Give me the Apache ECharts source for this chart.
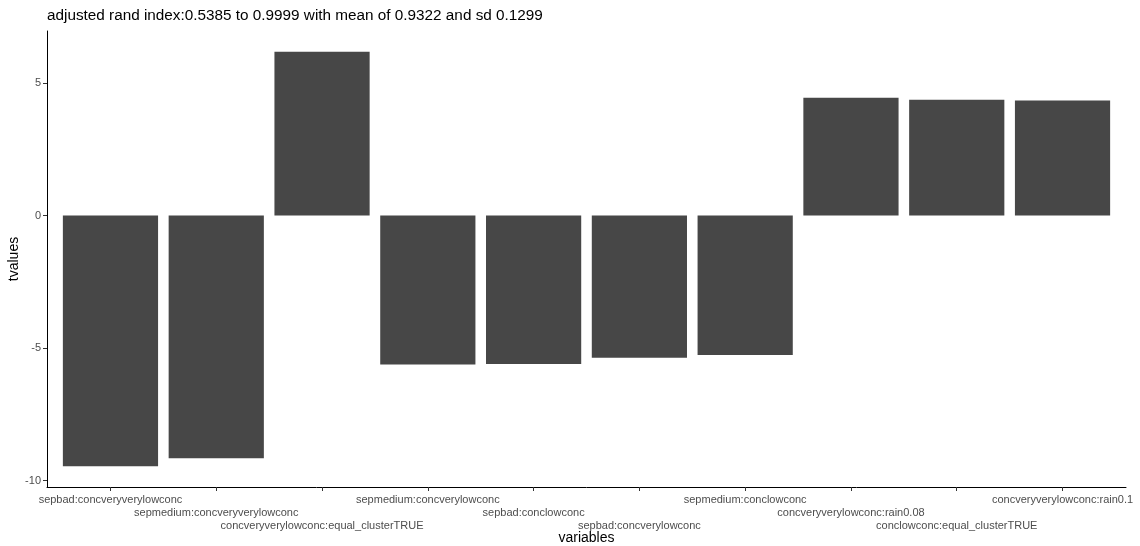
<!DOCTYPE html>
<html>
<head>
<meta charset="utf-8">
<script src="https://cdn.jsdelivr.net/npm/echarts@6/dist/echarts.min.js"></script>
<style>
  html, body { margin: 0; padding: 0; background: #fff; }
  #chart { width: 1140px; height: 546px; }
</style>
</head>
<body>
<div id="chart"></div>
<script>
// Interaction terms and their t values
const variables = [
  'sepbad:concveryverylowconc',
  'sepmedium:concveryverylowconc',
  'concveryverylowconc:equal_clusterTRUE',
  'sepmedium:concverylowconc',
  'sepbad:conclowconc',
  'sepbad:concverylowconc',
  'sepmedium:conclowconc',
  'concveryverylowconc:rain0.08',
  'conclowconc:equal_clusterTRUE',
  'concveryverylowconc:rain0.1'
];
const tvalues = [-9.46, -9.16, 6.18, -5.62, -5.60, -5.37, -5.26, 4.44, 4.37, 4.34];
const yTicks = [-10, -5, 0, 5];
const titleText = 'adjusted rand index:0.5385 to 0.9999 with mean of 0.9322 and sd 0.1299';

// ggplot-style padding: 5% on the continuous axis, 0.6 of a slot on the discrete one
const lo = Math.min(0, ...tvalues), hi = Math.max(0, ...tvalues);
const pad = (hi - lo) * 0.05;
const xIdx = variables.map((_, i) => i);
const xMin = -0.6, xMax = variables.length - 1 + 0.6;

const W = 1140, gridLeft = 47, gridRight = 14;
const slotPx = (W - gridLeft - gridRight) / (xMax - xMin);

const font = 'Liberation Sans, Arial, Helvetica, sans-serif';
const labelStyle = { fontFamily: font, fontSize: 11, color: '#4d4d4d' };

// Tick labels are dodged over three rows; each row is its own overlaid bottom axis
const ROWS = 3, ROW_STEP = 13, FIRST_MARGIN = 7;
const xAxes = [];
for (let r = 0; r < ROWS; r++) {
  const rowValues = xIdx.filter(i => i % ROWS === r);
  const axis = {
    type: 'value',
    position: 'bottom',
    offset: 0,
    min: xMin,
    max: xMax,
    axisLine: { show: r === 0, onZero: false, lineStyle: { color: '#000', width: 1 } },
    axisTick: r === 0
      ? { show: true, length: 4, customValues: xIdx, lineStyle: { color: '#333' } }
      : { show: false },
    axisLabel: Object.assign({
      customValues: rowValues,
      showMinLabel: true,
      showMaxLabel: true,
      hideOverlap: false,
      margin: FIRST_MARGIN + r * ROW_STEP,
      formatter: (v) => variables[Math.round(v)]
    }, labelStyle),
    splitLine: { show: false }
  };
  if (r === 0) {
    Object.assign(axis, {
      name: 'variables',
      nameLocation: 'middle',
      nameGap: 44,
      nameMoveOverlap: false,
      nameTextStyle: { fontFamily: font, fontSize: 14, color: '#000' }
    });
  }
  xAxes.push(axis);
}

const chart = echarts.init(document.getElementById('chart'), null, { renderer: 'canvas' });

chart.setOption({
  animation: false,
  backgroundColor: '#ffffff',
  title: {
    text: titleText,
    left: 42,
    top: 3,
    textStyle: { fontFamily: font, fontSize: 15.3, fontWeight: 'normal', color: '#000' }
  },
  grid: { left: gridLeft, right: gridRight, top: 31, bottom: 59, containLabel: false, outerBoundsMode: 'none' },
  xAxis: xAxes,
  yAxis: {
    type: 'value',
    min: lo - pad,
    max: hi + pad,
    name: 'tvalues',
    nameLocation: 'middle',
    nameGap: 26,
    nameRotate: 90,
    nameMoveOverlap: false,
    nameTextStyle: { fontFamily: font, fontSize: 14, color: '#000' },
    axisLine: { show: true, onZero: false, lineStyle: { color: '#000', width: 1 } },
    axisTick: { show: true, length: 4, customValues: yTicks, lineStyle: { color: '#333' } },
    axisLabel: Object.assign({
      customValues: yTicks,
      showMinLabel: true,
      showMaxLabel: true,
      margin: 6
    }, labelStyle),
    splitLine: { show: false }
  },
  series: [{
    type: 'bar',
    xAxisIndex: 0,
    data: tvalues.map((v, i) => [xIdx[i], v]),
    barWidth: slotPx * 0.9,
    itemStyle: { color: '#474747' },
    silent: true
  }]
});
</script>
</body>
</html>
